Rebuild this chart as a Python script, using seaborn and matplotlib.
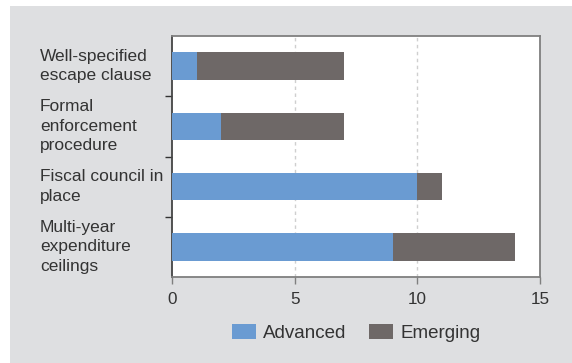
import matplotlib
matplotlib.use("Agg")
import matplotlib.pyplot as plt
import matplotlib.transforms as mtransforms
from matplotlib.patches import Patch, Rectangle
import pandas as pd
import seaborn as sns

# data
categories = ["Well-specified\nescape clause",
              "Formal\nenforcement\nprocedure",
              "Fiscal council in\nplace",
              "Multi-year\nexpenditure\nceilings"]
advanced = [1, 2, 10, 9]
emerging = [6, 5, 1, 5]
x_ticks = [0, 5, 10, 15]
series_names = ["Advanced", "Emerging"]

blue = "#6a9bd2"
brown = "#6e6867"
bg_grey = "#dedfe1"
text_col = "#333333"
spine_col = "#7f7f7f"

sns.set_style("white")
plt.rcParams["font.family"] = ["Liberation Sans", "DejaVu Sans"]

df = pd.DataFrame({"category": categories, "advanced": advanced, "emerging": emerging})
df["total"] = df["advanced"] + df["emerging"]

fig = plt.figure(figsize=(5.72, 3.63), dpi=100, facecolor="white")
# grey panel behind the chart
fig.patches.append(Rectangle((10 / 572, 0), 1 - 10 / 572, 1 - 6 / 363,
                             transform=fig.transFigure, facecolor=bg_grey,
                             edgecolor="none", zorder=-10))
ax = fig.add_axes([172 / 572, 1 - 277 / 363, (540 - 172) / 572, (277 - 36) / 363])
ax.set_facecolor("white")

# stacked bars: total (emerging on the right) then advanced on top
sns.barplot(data=df, y="category", x="total", color=brown, orient="h",
            width=0.46, saturation=1, linewidth=0, ax=ax, zorder=3)
sns.barplot(data=df, y="category", x="advanced", color=blue, orient="h",
            width=0.46, saturation=1, linewidth=0, ax=ax, zorder=4)

ax.set_xlim(0, 15)
ax.set_ylim(3.5, -0.5)
ax.set_xticks(x_ticks)
ax.set_xticklabels([str(t) for t in x_ticks], fontsize=12.3, color=text_col)
ax.set_xlabel("")
ax.set_ylabel("")

# y ticks sit between categories, labels drawn as left-aligned text
ax.set_yticks([0.5, 1.5, 2.5])
ax.set_yticklabels([])
ax.tick_params(axis="y", direction="out", length=5, width=1, color="#333333", left=True)
ax.tick_params(axis="x", direction="out", length=5, width=1, color=spine_col,
               pad=6, bottom=True)

trans = mtransforms.blended_transform_factory(fig.transFigure, ax.transData)
for i, lab in enumerate(categories):
    ax.text(40 / 572, i, lab, transform=trans, ha="left", va="center",
            fontsize=12.5, color=text_col, linespacing=1.38, clip_on=False)

# dashed grid at 5 and 10
for xv in x_ticks[1:-1]:
    ax.axvline(xv, color="#cfcfcf", linestyle=(0, (2.5, 2.5)), linewidth=1, zorder=1)

for side in ["left", "bottom", "top", "right"]:
    ax.spines[side].set_visible(True)
    ax.spines[side].set_color(spine_col)
    ax.spines[side].set_linewidth(1.3)
ax.spines["left"].set_color("#444444")

handles = [Patch(facecolor=blue, edgecolor="none"), Patch(facecolor=brown, edgecolor="none")]
fig.legend(handles, series_names, loc="center",
           bbox_to_anchor=(356 / 572, 1 - 333 / 363), ncol=2, frameon=False,
           fontsize=13.5, handlelength=1.28, handleheight=0.8, handletextpad=0.4,
           columnspacing=1.2, labelcolor=text_col, borderaxespad=0)

fig.savefig("out.png", dpi=100, facecolor="white")
